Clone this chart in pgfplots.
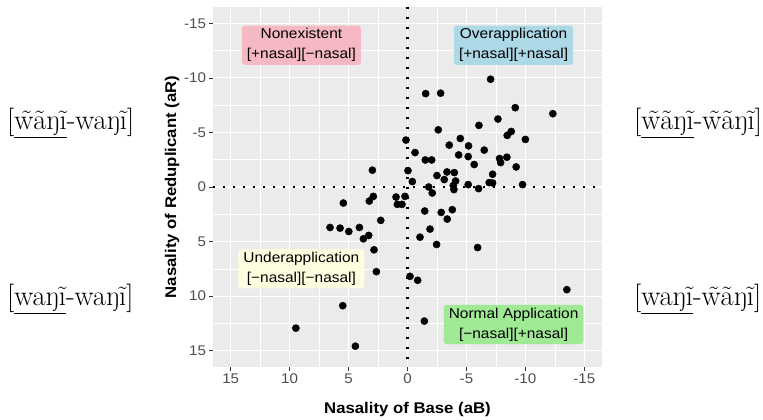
\documentclass[border=0pt]{standalone}
\usepackage{fontspec}
\usepackage{pgfplots}
\usepackage{pgfplotstable}
\pgfplotsset{compat=1.18}
\newfontfamily\sansf{Liberation Sans}[FakeStretch=1.08]
\definecolor{panel}{RGB}{235,235,235}
\definecolor{tickgray}{RGB}{51,51,51}
\definecolor{labgray}{RGB}{77,77,77}
\definecolor{pinkc}{RGB}{246,185,196}
\definecolor{bluec}{RGB}{173,216,230}
\definecolor{yellowc}{RGB}{255,253,224}
\definecolor{greenc}{RGB}{160,234,150}

\pgfplotstableread{
x y
-7.05 -9.88
-1.54 -8.56
-2.81 -8.6
-9.14 -7.27
-12.33 -6.72
-7.67 -6.23
-6.06 -5.65
-2.61 -5.24
-8.8 -5.09
-8.46 -4.73
-10.0 -4.36
0.13 -4.3
-4.48 -4.45
-3.54 -3.84
-5.18 -3.77
-6.51 -3.38
-0.64 -3.16
-1.51 -2.48
-2.05 -2.48
-4.34 -2.94
-5.15 -2.79
-7.81 -2.61
-8.43 -2.73
-7.9 -2.24
-5.66 -2.06
-9.22 -1.84
2.98 -1.54
-0.04 -1.5
-7.22 -1.17
-2.5 -1.05
-3.35 -1.38
-3.97 -1.32
-3.12 -0.68
-0.41 -0.5
-4.08 -0.55
-6.93 -0.4
-7.22 -0.37
-5.15 -0.22
-9.76 -0.22
-1.8 0
-3.88 -0.12
-6.03 0.15
-2.1 0.55
-3.94 0.24
0.97 0.92
0.21 0.86
2.9 0.86
3.24 1.29
5.44 1.47
0.86 1.59
0.47 1.59
-1.46 2.2
-2.86 2.33
-3.8 2.08
-3.37 2.94
2.27 3.06
6.57 3.71
5.72 3.77
4.08 3.71
4.98 4.08
-1.91 3.86
3.29 4.44
3.74 4.75
-1.06 4.6
-2.47 5.27
2.84 5.76
-5.95 5.55
2.64 7.76
-0.21 8.19
-0.86 8.55
-13.52 9.41
5.49 10.88
-1.43 12.29
9.47 12.94
4.42 14.59
}\pointdata

\begin{document}
\begin{tikzpicture}
\useasboundingbox (0,0) rectangle (763pt,420pt);
\begin{axis}[
  at={(407.5pt,233pt)}, anchor=center,
  scale only axis, width=389pt, height=360pt,
  xmin=-16.5, xmax=16.5, ymin=-16.5, ymax=16.5,
  x dir=reverse, y dir=reverse,
  axis background/.style={fill=panel},
  axis line style={draw=none},
  xtick={15,10,5,0,-5,-10,-15},
  xticklabels={15,10,5,0,-5,-10,-15},
  ytick={-15,-10,-5,0,5,10,15},
  yticklabels={-15,-10,-5,0,5,10,15},
  minor xtick={12.5,7.5,2.5,-2.5,-7.5,-12.5},
  minor ytick={12.5,7.5,2.5,-2.5,-7.5,-12.5},
  grid=both,
  major grid style={white, line width=1.1pt},
  minor grid style={white, line width=0.55pt},
  tick align=outside,
  xtick pos=left, ytick pos=left,
  major tick length=3.5pt, minor tick length=0pt,
  major tick style={tickgray, line width=0.8pt},
  tick label style={font=\sansf\fontsize{14}{16}\selectfont, text=labgray},
  clip=false,
]
\addplot[black, line width=2.4pt, dash pattern=on 2.4pt off 7.6pt] coordinates {(0,-16.5) (0,16.5)};
\addplot[black, line width=2.4pt, dash pattern=on 2.4pt off 7.6pt] coordinates {(16.5,0) (-16.5,0)};
\addplot[only marks, mark=*, mark size=3.6pt, black] table[x=x,y=y] {\pointdata};
\node[fill=pinkc, rounded corners=3pt, align=center, inner xsep=5pt, inner ysep=3pt,
  font=\sansf\fontsize{14.3}{20}\selectfont] at (axis cs:9,-13) {Nonexistent\\{}[+nasal][−nasal]};
\node[fill=bluec, rounded corners=3pt, align=center, inner xsep=5pt, inner ysep=3pt,
  font=\sansf\fontsize{14.3}{20}\selectfont] at (axis cs:-9,-13) {Overapplication\\{}[+nasal][+nasal]};
\node[fill=yellowc, rounded corners=3pt, align=center, inner xsep=5pt, inner ysep=3pt,
  font=\sansf\fontsize{14.3}{20}\selectfont] at (axis cs:9,7.5) {Underapplication\\{}[−nasal][−nasal]};
\node[fill=greenc, rounded corners=3pt, align=center, inner xsep=5pt, inner ysep=3pt,
  font=\sansf\fontsize{14.3}{20}\selectfont] at (axis cs:-9,12.6) {Normal Application\\{}[−nasal][+nasal]};
\end{axis}
\node[font=\sansf\bfseries\fontsize{15.5}{18}\selectfont] at (407.5pt,11pt) {Nasality of Base (aB)};
\node[font=\sansf\bfseries\fontsize{15.5}{18}\selectfont, rotate=90] at (172pt,233pt) {Nasality of Reduplicant (aR)};
\node[anchor=west, font=\fontsize{28.5}{32}\selectfont, inner sep=0pt] at (7pt,297pt) {[\underline{w̃ãŋĩ}-waŋĩ]};
\node[anchor=west, font=\fontsize{28.5}{32}\selectfont, inner sep=0pt] at (634pt,297pt) {[\underline{w̃ãŋĩ}-w̃ãŋĩ]};
\node[anchor=west, font=\fontsize{28.5}{32}\selectfont, inner sep=0pt] at (7pt,121pt) {[\underline{waŋĩ}-waŋĩ]};
\node[anchor=west, font=\fontsize{28.5}{32}\selectfont, inner sep=0pt] at (634pt,121pt) {[\underline{waŋĩ}-w̃ãŋĩ]};
\end{tikzpicture}
\end{document}
